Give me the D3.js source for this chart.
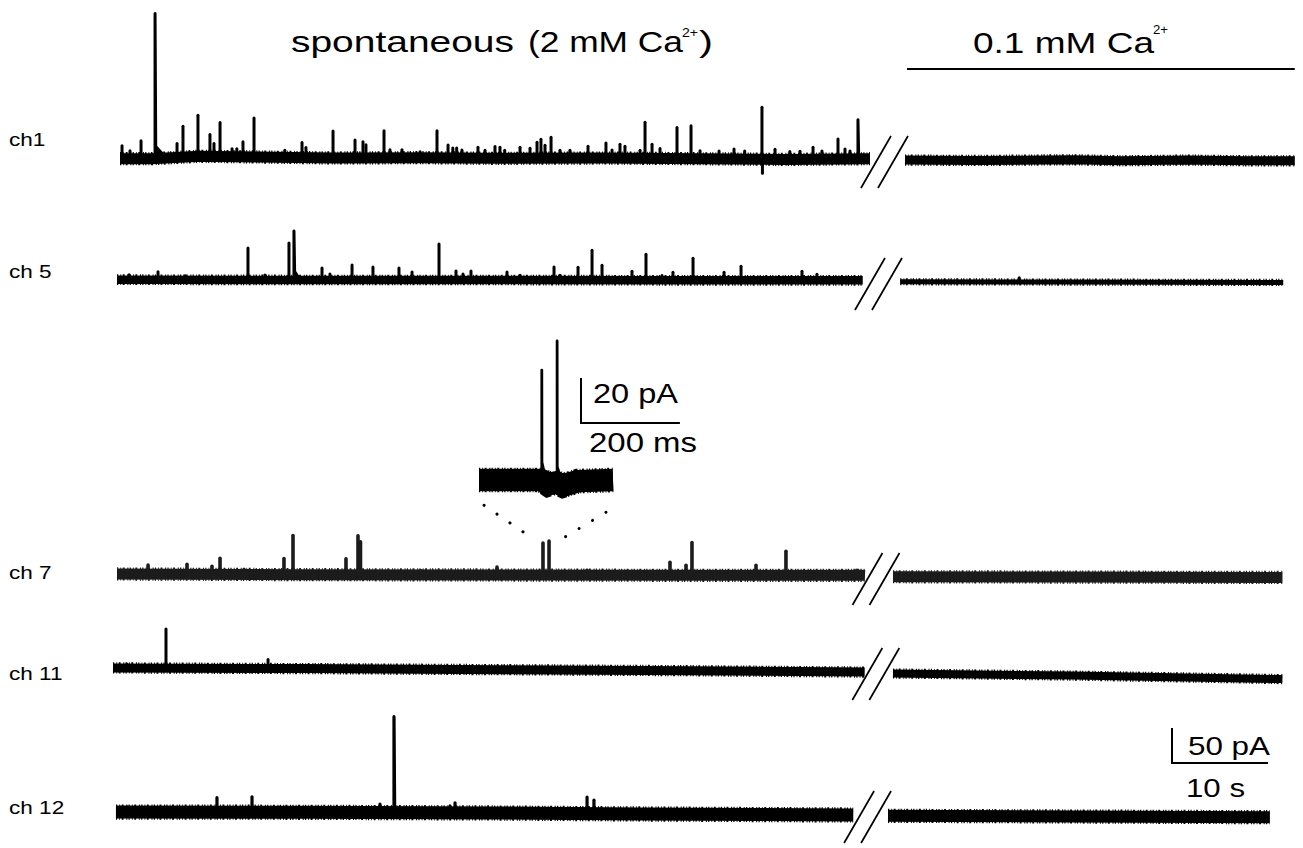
<!DOCTYPE html>
<html><head><meta charset="utf-8">
<script src="https://cdn.jsdelivr.net/npm/d3@7/dist/d3.min.js"></script>
<style>
html,body{margin:0;padding:0;background:#fff;}
svg{display:block;}
text{font-family:"Liberation Sans",Arial,sans-serif;fill:#000;}
</style></head><body>
<svg id="chart" width="1303" height="848"></svg>
<script>
// ---------------- DATA ----------------
const channels = ["ch1", "ch 5", "ch 7", "ch 11", "ch 12"];
// recording segments in seconds (before / after the break)
const leftSegments  = [[0.73, 78.85], [0.42, 78.1], [0.42, 78.33], [0, 78.3], [0.31, 77.1]];
const rightSegments = [[82.5, 123.1], [82.0, 121.9], [81.25, 121.8], [81.25, 121.8], [80.73, 120.5]];
// baseline noise, peak-to-peak pA
const noiseLeft  = [15.7, 12.1, 15.7, 12.9, 18.6];
const noiseRight = [12.9, 7.1, 15.7, 11.4, 17.1];
// slow baseline drift [s, pA]
const driftCh1  = [[0,-1],[4,-1],[9,2.5],[15,1.5],[23,0],[32,0.5],[40,-0.5],[51,0],[61,-1],[70,-2],[79,-1],[82.5,-3],[90,-3.5],[100,-2.5],[105,-4],[112,-3],[118,-4],[123.1,-4]];
const driftCh5  = [[0,0.5],[20,0],[40,0],[60,-0.5],[78.1,-0.5],[82,-2.5],[100,-3],[122,-3.5]];
const driftCh7  = [[0,1.5],[20,0.5],[40,0],[60,-0.5],[78.3,-0.5],[81,-2.5],[100,-3],[122,-3.5]];
const driftCh11 = [[0,3],[20,2],[40,0.5],[60,-1],[78.3,-3],[81.25,-5],[100,-8],[121.8,-13]];
const driftCh12 = [[0,1.4],[20,1],[40,0],[55,-1.4],[77.1,-2.9],[80.73,-4],[100,-5],[120.5,-6]];
// events [time s, amplitude pA, tail pA, tail duration s]
const eventsCh1 = [[0.94,18.6],[1.77,11.4],[2.92,25.7],[4.38,207,17,2.6],[6.67,20],[7.29,44],[8.85,58.6],[10.1,31.4],[10.52,18.6],[11.15,48.6],[12.4,11.4],[12.9,11.4],[13.54,21.4],[14.69,55.7],[17.9,10],[19.69,21.4],[20.1,14.3],[22.92,38.6],[25.21,25.7],[26.04,22.9],[26.35,18.6],[28.23,38.6],[28.85,11.4],[30.1,11.4],[31.98,8.6],[33.75,38.6],[34.9,18.6],[35.4,14.3],[35.8,14.3],[36.35,11.4],[38.02,15.7],[38.75,11.4],[39.79,17],[40.31,15.7],[40.8,11.4],[42.4,15.7],[43.44,14.3],[44.17,22.9],[44.58,27],[45.0,18.6],[45.63,30],[46.56,11.4],[47.6,11.4],[49.48,17],[51.35,21.4],[51.98,11.4],[52.81,20],[53.33,17],[54.9,11.4],[55.42,51.4],[56.15,20],[56.98,14.3],[58.75,44.3],[60.21,47],[61.15,11.4],[63.13,11.4],[64.69,14.3],[65.8,11.4],[67.6,74.3],[67.65,-20],[68.96,14.3],[70.5,11.4],[71.56,11.4],[72.92,17],[73.85,11.4],[75.52,28.6],[76.25,14.3],[76.77,11.4],[77.6,55.7,8,0.8]];
const eventsCh5 = [[1.67,7],[4.69,11.4],[7.5,5.7],[14.06,45.7],[15.83,7],[18.33,52.9],[18.85,70,12,1.5],[21.77,17],[22.6,8.6],[24.9,21.4],[27.08,18.6],[29.79,17],[31.15,11.4],[33.96,51.4],[35.73,12.9],[36.46,8.6],[37.29,12.9],[41.04,11.4],[42.4,7],[45.94,18.6],[46.56,7],[48.44,18.6],[49.9,42.9],[50.94,21.4],[54.06,12.9],[55.52,37.1],[57.19,7],[58.33,11.4],[60.42,31.4],[63.65,11.4],[65.42,20],[71.77,12.9],[73.33,8.6],[94.4,6]];
const eventsCh7 = [[3.65,12.9],[7.71,14.3],[10.31,11.4],[11.15,22.9],[13.65,7.1],[17.81,22.9],[18.75,55.7],[24.27,22.9],[25.52,55.7],[25.78,47],[32.08,5.7],[40.0,11.4],[44.79,45.7],[45.42,48.6],[49.38,7.1],[51.04,5.7],[58.02,18.6],[59.69,14.3],[60.31,47],[66.98,14.3],[70.1,34.3],[77.5,7.1]];
const eventsCh11 = [[1.46,5.7],[5.52,55.7],[16.15,12.9],[26.2,3]];
const eventsCh12 = [[1.5,7],[10.83,20.7],[14.48,22],[17.9,7],[27.81,12.1],[29.27,137,6,0.5],[35.1,10],[35.63,14.3],[49.38,23.6],[50.1,19.3]];
// inset (expanded ch 7 pair), ms / pA
const insetSegment = [0, 271];
const insetEvents = [[127, 49, 8, 22], [158, 63, 7, 28]];
const insetDrift = [[0,0],[126,0],[140,-2],[156,-1],[170,-2.5],[200,-0.5],[271,0]];
const insetNoise = 10;
// text
const titleLeft = "spontaneous";
const titleLeft2 = "(2 mM Ca";
const titleRight = "0.1 mM Ca";
const ionCharge = "2+";
const scaleMain = {pA: 50, s: 10, pALabel: "50 pA", sLabel: "10 s"};
const scaleInset = {pA: 20, ms: 200, pALabel: "20 pA", msLabel: "200 ms"};

const drifts = [driftCh1, driftCh5, driftCh7, driftCh11, driftCh12];
const events = [eventsCh1, eventsCh5, eventsCh7, eventsCh11, eventsCh12];

// ---------------- LAYOUT ----------------
const rowY = [158, 280, 575, 670, 813];
const labelY = [146, 278, 579, 680, 814];
const traceColor = ["#000", "#000", "#1c1c1c", "#000", "#000"];
const spikeW = [3, 3, 3.6, 3, 3.2];

const svg = d3.select("#chart");
const xS = d3.scaleLinear().domain([0, 125]).range([113, 1313]);
const yS = d3.scaleLinear().domain([0, 50]).range([0, 35]);

function drawSegment(g, seg, knots, evs, pp, color, sw, baseY, xs, ys) {
  const drift = d3.scaleLinear().domain(knots.map(k => k[0])).range(knots.map(k => k[1])).clamp(true);
  const inSeg = evs.filter(e => e[0] >= seg[0] && e[0] <= seg[1]);
  let ts = [seg[0], seg[1]].concat(knots.map(k => k[0]));
  ts = Array.from(new Set(ts.filter(t => t >= seg[0] && t <= seg[1]))).sort(d3.ascending);
  const line = d3.line().x(t => xs(t)).y(t => baseY - ys(drift(t)));
  const d = line(ts);
  const w = ys(pp);
  g.append("path").attr("d", d).attr("fill", "none").attr("stroke", color)
    .attr("stroke-width", w).attr("stroke-linejoin", "round");
  g.append("path").attr("d", d).attr("fill", "none").attr("stroke", color)
    .attr("stroke-width", w + 2.2).attr("stroke-dasharray", "1.2 2.1 0.8 1.6 1.9 2.7 1 1.3");
  const dt = (seg[1] - seg[0]) * 0.0009;
  inSeg.forEach(e => {
    const t0 = e[0], b = drift(t0), top = b + e[1];
    if (e[2]) {
      const pts = [[t0, b], [t0, top], [t0 + dt, b + e[2]], [t0 + e[3] * 0.3, drift(t0 + e[3] * 0.3) + e[2] * 0.35], [t0 + e[3], drift(t0 + e[3])]];
      const tail = pts.slice(2);
      g.append("path").attr("d", d3.area().x(p => xs(p[0])).y0(p => baseY - ys(drift(p[0]))).y1(p => baseY - ys(p[1]))([[t0, b + e[2]]].concat(tail)))
        .attr("fill", color);
      g.append("path").attr("d", d3.line().x(p => xs(p[0])).y(p => baseY - ys(p[1]))(pts))
        .attr("fill", "none").attr("stroke", color).attr("stroke-width", sw).attr("stroke-linejoin", "round");
    } else {
      g.append("line").attr("x1", xs(t0)).attr("x2", xs(t0))
        .attr("y1", baseY - ys(b)).attr("y2", baseY - ys(top))
        .attr("stroke", color).attr("stroke-width", sw).attr("stroke-linecap", "round");
    }
  });
}

function fitText(x, y, size, str, len) {
  return svg.append("text").attr("x", x).attr("y", y).attr("font-size", size)
    .attr("textLength", len).attr("lengthAdjust", "spacingAndGlyphs").text(str);
}

channels.forEach((name, i) => {
  const g = svg.append("g");
  drawSegment(g, leftSegments[i], drifts[i], events[i], noiseLeft[i], traceColor[i], spikeW[i], rowY[i], xS, yS);
  drawSegment(g, rightSegments[i], drifts[i], events[i], noiseRight[i], traceColor[i], spikeW[i], rowY[i], xS, yS);
  const cx = (xS(leftSegments[i][1]) + xS(rightSegments[i][0])) / 2 - 3;
  const cy = rowY[i] + 4;
  [-8.5, 8.5].forEach(o => {
    g.append("line").attr("x1", cx + o - 15).attr("y1", cy + 26).attr("x2", cx + o + 15).attr("y2", cy - 26)
      .attr("stroke", "#000").attr("stroke-width", 1.7);
  });
  svg.append("text").attr("transform", `translate(9,${labelY[i]}) scale(1.22,1)`)
    .attr("font-size", 18.5).text(name);
});

fitText(291, 52, 29, titleLeft, 223);
fitText(528, 52, 29, titleLeft2, 155);
fitText(682, 37, 12.5, ionCharge, 16);
fitText(699, 52, 29, ")", 14);
fitText(973, 53, 30, titleRight, 181);
fitText(1153, 34, 12.5, ionCharge, 15);
svg.append("line").attr("x1", xS(rightSegments[0][0]) + 2).attr("x2", xS(rightSegments[0][1]))
  .attr("y1", 69).attr("y2", 69).attr("stroke", "#000").attr("stroke-width", 2);

const sbX = 1172, sbY = 763;
svg.append("path").attr("d", `M${sbX},${sbY - yS(scaleMain.pA)}V${sbY}H${sbX + xS(scaleMain.s) - xS(0)}`)
  .attr("fill", "none").attr("stroke", "#000").attr("stroke-width", 2);
fitText(1188, 755, 26, scaleMain.pALabel, 82);
fitText(1186, 797, 26, scaleMain.sLabel, 59);

const ixS = d3.scaleLinear().domain([0, 271]).range([479, 613]);
const iyS = d3.scaleLinear().domain([0, 20]).range([0, 45]);
const insetY = 480;
const gi = svg.append("g");
drawSegment(gi, insetSegment, insetDrift, insetEvents, insetNoise, "#000", 2.8, insetY, ixS, iyS);
const isbX = 581, isbY = 423;
svg.append("path").attr("d", `M${isbX},${isbY - iyS(scaleInset.pA)}V${isbY}H${isbX + ixS(scaleInset.ms) - ixS(0)}`)
  .attr("fill", "none").attr("stroke", "#000").attr("stroke-width", 2);
fitText(593, 403, 27, scaleInset.pALabel, 85);
fitText(589, 452, 27, scaleInset.msLabel, 108);

const bottomInset = insetY + iyS(insetNoise) / 2;
const e7a = eventsCh7[12], e7b = eventsCh7[13];
const dots = [
  [[ixS(insetSegment[0]) + 5, bottomInset + 14], [xS(e7a[0]) - 11, rowY[2] - 37]],
  [[ixS(insetSegment[1]) - 7, bottomInset + 21], [xS(e7b[0]) + 11, rowY[2] - 35]]
];
dots.forEach(d => {
  svg.append("line").attr("x1", d[0][0]).attr("y1", d[0][1]).attr("x2", d[1][0]).attr("y2", d[1][1])
    .attr("stroke", "#000").attr("stroke-width", 3).attr("stroke-linecap", "round")
    .attr("stroke-dasharray", "0.1,15.6");
});
</script></body></html>
